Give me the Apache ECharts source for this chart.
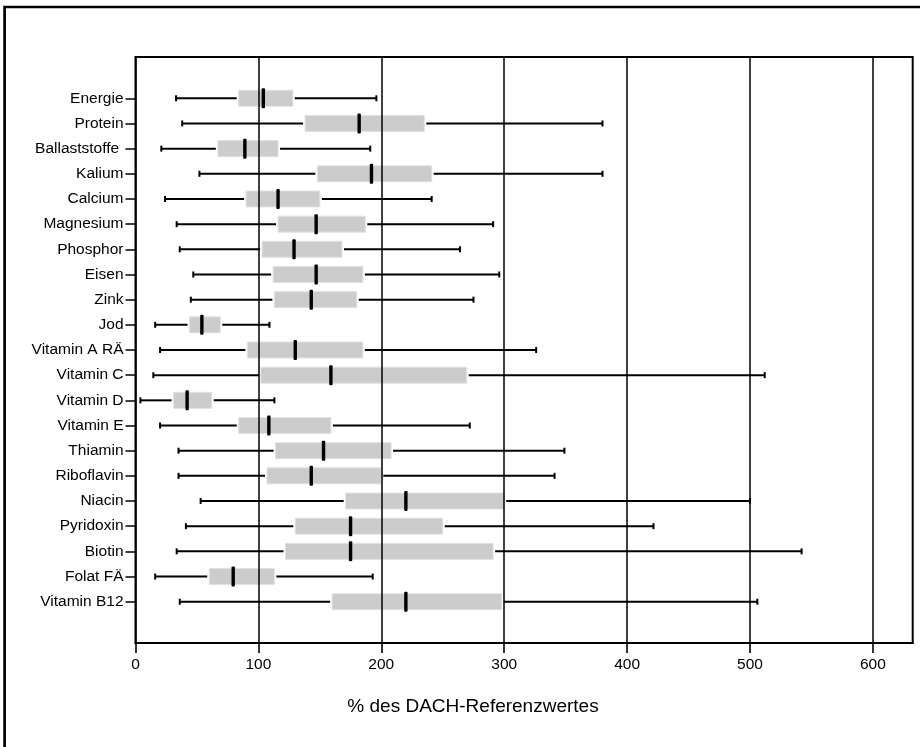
<!DOCTYPE html>
<html>
<head>
<meta charset="utf-8">
<script src="https://cdn.jsdelivr.net/npm/echarts@6/dist/echarts.min.js"></script>
<style>
  html, body { margin: 0; padding: 0; background: #fff; }
  #chart { width: 920px; height: 747px; }
</style>
</head>
<body>
<div id="chart"></div>
<script>
// Nährstoffzufuhr in % des DACH-Referenzwertes: Min, Q1, Median, Q3, Max
const categories = ['Energie', 'Protein', 'Ballaststoffe ', 'Kalium', 'Calcium', 'Magnesium',
  'Phosphor', 'Eisen', 'Zink', 'Jod', 'Vitamin A RÄ', 'Vitamin C', 'Vitamin D', 'Vitamin E',
  'Thiamin', 'Riboflavin', 'Niacin', 'Pyridoxin', 'Biotin', 'Folat FÄ', 'Vitamin B12'];
const minimum   = [33, 38, 21, 52, 24, 33.5, 36, 47, 45, 16, 20, 14.5, 4, 20, 35, 35, 53, 41, 33.5, 16, 36];
const quartile1 = [84, 138, 67, 148, 90, 116, 103, 112, 113, 44, 91, 102, 31, 84, 114, 107, 171, 130, 122, 60, 160];
const median    = [104, 182, 89, 192, 116, 147, 129, 147, 143, 54, 130, 159, 42, 108.5, 153, 143, 220, 175, 175, 79.5, 220];
const quartile3 = [128, 235, 116, 241, 150, 187, 168, 185, 180, 69, 185, 269.5, 62, 159, 208, 200, 300, 250, 291, 113, 298];
const maximum   = [196, 380, 191, 380, 241, 291, 264, 296, 275, 109, 326, 512, 113, 272, 349, 341, 500, 421.5, 542, 193, 506];
const xTicks = [0, 100, 200, 300, 400, 500, 600];
const xMax = 632.4;
const axisTitle = '% des DACH-Referenzwertes';

const FONT = '"Liberation Sans", Arial, Helvetica, sans-serif';

const rows = categories.map((c, i) =>
  [i, minimum[i], quartile1[i], median[i], quartile3[i], maximum[i]]);

// grey interquartile boxes (drawn beneath the grid lines)
function renderBox(params, api) {
  const band = api.size([0, 1])[1];
  const h = band * 0.636;
  const p1 = api.coord([api.value(2), api.value(0)]);
  const p3 = api.coord([api.value(4), api.value(0)]);
  return {
    type: 'rect',
    shape: { x: p1[0], y: p1[1] - h / 2, width: p3[0] - p1[0], height: h },
    style: { fill: '#cccccc', stroke: '#e2e2e2', lineWidth: 1 }
  };
}

// whiskers with end caps, plus the median bar
function renderWhisker(params, api) {
  const idx = api.value(0);
  const pMin = api.coord([api.value(1), idx]);
  const p1 = api.coord([api.value(2), idx]);
  const pMed = api.coord([api.value(3), idx]);
  const p3 = api.coord([api.value(4), idx]);
  const pMax = api.coord([api.value(5), idx]);
  const y = pMin[1];
  const lineStyle = { stroke: '#000', lineWidth: 2 };
  const capH = 6;
  return {
    type: 'group',
    children: [
      { type: 'line', shape: { x1: pMin[0], y1: y, x2: p1[0] - 2, y2: y }, style: lineStyle },
      { type: 'line', shape: { x1: p3[0] + 2, y1: y, x2: pMax[0], y2: y }, style: lineStyle },
      { type: 'line', shape: { x1: pMin[0], y1: y - capH / 2, x2: pMin[0], y2: y + capH / 2 }, style: lineStyle },
      { type: 'line', shape: { x1: pMax[0], y1: y - capH / 2, x2: pMax[0], y2: y + capH / 2 }, style: lineStyle },
      { type: 'rect', shape: { x: pMed[0] - 1.7, y: y - 10, width: 3.4, height: 20, r: 1 }, style: { fill: '#000' } }
    ]
  };
}

const chart = echarts.init(document.getElementById('chart'), null, { renderer: 'canvas' });

chart.setOption({
  animation: false,
  backgroundColor: '#ffffff',
  textStyle: { fontFamily: FONT },
  grid: [
    { left: 135.5, top: 57, width: 777.2, height: 586, show: true,
      borderColor: '#000', borderWidth: 2, backgroundColor: 'transparent' },
    { left: 135.5, top: 85.7, width: 777.2, height: 528.6 }
  ],
  xAxis: [
    {
      gridIndex: 0, type: 'value', min: 0, max: xMax, interval: 100,
      axisLine: { show: true, lineStyle: { color: '#000', width: 2 } },
      axisTick: { show: true, length: 10, customValues: xTicks, lineStyle: { color: '#000', width: 1.6 } },
      axisLabel: { customValues: xTicks, color: '#000', fontSize: 15.5, margin: 14, fontFamily: FONT },
      splitLine: { show: true, lineStyle: { color: '#000', width: 1.5 } }
    },
    { gridIndex: 1, type: 'value', min: 0, max: xMax, show: false }
  ],
  yAxis: [
    { gridIndex: 0, type: 'value', min: 0, max: 1, show: false },
    {
      gridIndex: 1, type: 'category', data: categories, inverse: true,
      axisLine: { show: false },
      axisTick: { show: true, alignWithLabel: true, length: 10, lineStyle: { color: '#000', width: 1.5 } },
      axisLabel: { color: '#000', fontSize: 15.5, margin: 12, fontFamily: FONT },
      splitLine: { show: false }
    }
  ],
  graphic: [
    { type: 'rect', silent: true, z: 100,
      shape: { x: 4.6, y: 7, width: 1000, height: 1000 },
      style: { fill: 'none', stroke: '#000', lineWidth: 2.7 } },
    { type: 'text', silent: true, z: 100,
      x: 473, y: 707,
      style: { text: axisTitle, font: '19px ' + FONT, fill: '#000',
        textAlign: 'center', textVerticalAlign: 'middle' } }
  ],
  series: [
    { type: 'custom', name: 'box', xAxisIndex: 1, yAxisIndex: 1, z: -1,
      renderItem: renderBox, data: rows, encode: { x: [1, 2, 3, 4, 5], y: 0 } },
    { type: 'custom', name: 'whisker', xAxisIndex: 1, yAxisIndex: 1, z: 5,
      renderItem: renderWhisker, data: rows, encode: { x: [1, 2, 3, 4, 5], y: 0 } }
  ]
});
</script>
</body>
</html>
